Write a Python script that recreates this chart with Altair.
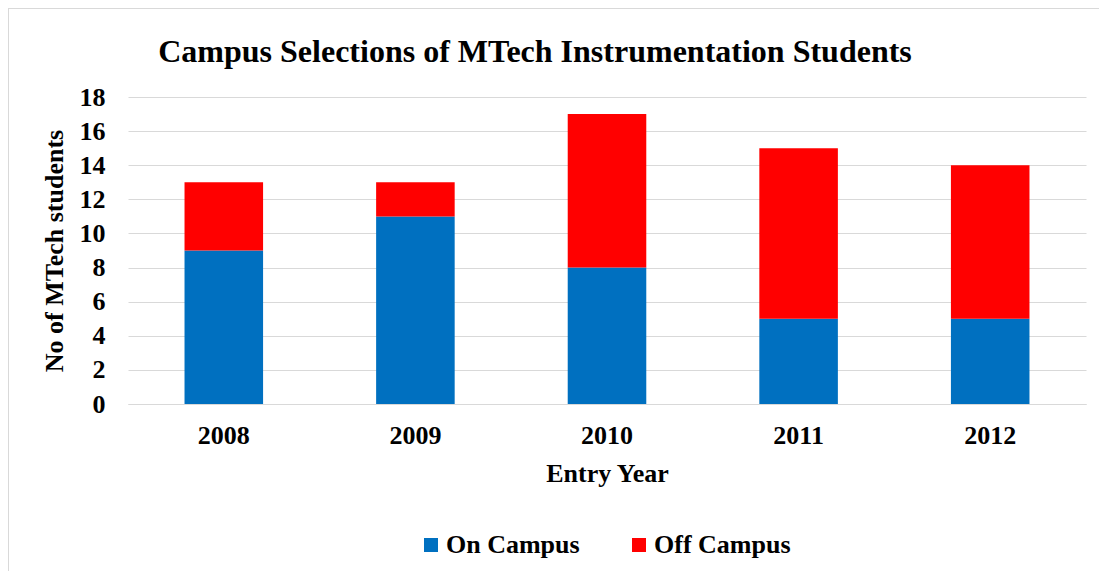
import altair as alt
import pandas as pd

years = ["2008", "2009", "2010", "2011", "2012"]
on_campus = [9, 11, 8, 5, 5]
off_campus = [4, 2, 9, 10, 9]
series = ["On Campus", "Off Campus"]
colors = ["#0070C0", "#FF0000"]
y_ticks = list(range(0, 19, 2))

rows = []
for i, yr in enumerate(years):
    rows.append({"year": yr, "series": series[0], "value": on_campus[i], "ord": 0})
    rows.append({"year": yr, "series": series[1], "value": off_campus[i], "ord": 1})
df = pd.DataFrame(rows)

FONT = "Liberation Serif"

bars = alt.Chart(df).mark_bar().encode(
    x=alt.X("year:N", title="Entry Year", sort=years,
            scale=alt.Scale(paddingInner=0.59, paddingOuter=0.295),
            axis=alt.Axis(labelAngle=0, ticks=False, labelPadding=18, titlePadding=12,
                          domainColor="#d9d9d9", grid=False)),
    y=alt.Y("value:Q", stack="zero", title="No of MTech students",
            scale=alt.Scale(domain=[0, 18], nice=False),
            axis=alt.Axis(values=y_ticks, ticks=False, domain=False, labelPadding=23,
                          titlePadding=12, gridColor="#d9d9d9", gridWidth=1)),
    color=alt.Color("series:N", scale=alt.Scale(domain=series, range=colors),
                    legend=alt.Legend(orient="none", legendX=290, legendY=435,
                                      direction="horizontal", title=None,
                                      symbolType="square", symbolSize=196,
                                      symbolStrokeWidth=0, labelOffset=2,
                                      columnPadding=46, labelFont=FONT,
                                      labelFontSize=26, labelFontWeight="bold",
                                      labelColor="#000000")),
    order=alt.Order("ord:Q"),
)

one = pd.DataFrame({"a": [0]})
top_border = alt.Chart(one).mark_rule(color="#d9d9d9", strokeWidth=1).encode(
    x=alt.value(-120), x2=alt.value(975), y=alt.value(-88.5))
left_border = alt.Chart(one).mark_rule(color="#d9d9d9", strokeWidth=1).encode(
    x=alt.value(-119.5), y=alt.value(-89), y2=alt.value(480))

chart = alt.layer(top_border, left_border, bars).properties(
    width=958, height=307,
    title=alt.TitleParams("Campus Selections of MTech Instrumentation Students",
                          font=FONT, fontSize=32, fontWeight="bold", color="#000000",
                          anchor="middle", dx=-72, offset=-61),
    autosize=alt.AutoSizeParams(type="none"),
    padding={"left": 120, "top": 89, "right": 13, "bottom": 167},
    background="#ffffff",
).configure_axis(
    labelFont=FONT, labelFontSize=26, labelFontWeight="bold", labelColor="#000000",
    titleFont=FONT, titleFontSize=26, titleFontWeight="bold", titleColor="#000000",
).configure_view(stroke=None)

chart.save("out.html", embed_options={"renderer": "svg", "actions": False})
